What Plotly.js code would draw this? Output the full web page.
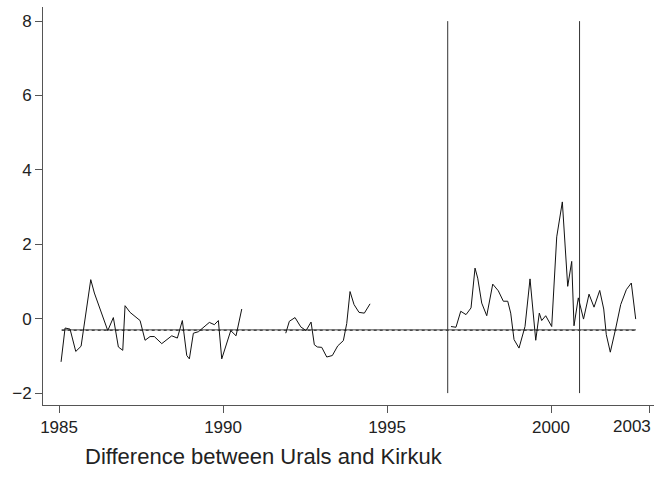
<!DOCTYPE html>
<html>
<head>
<meta charset="utf-8">
<script src="https://cdn.plot.ly/plotly-3.0.1.min.js"></script>
<style>html,body{margin:0;padding:0;background:#fff;}#chart{width:654px;height:482px;}</style>
</head>
<body>
<div id="chart"></div>
<script>
// Segment 1 (1985 - 1990.6)
const seg1Years = [1985.061,1985.183,1985.335,1985.509,1985.671,1985.966,1986.076,1986.485,1986.655,1986.808,1986.942,1987.012,1987.165,1987.470,1987.622,1987.774,1987.905,1988.131,1988.436,1988.607,1988.759,1988.893,1988.973,1989.095,1989.247,1989.421,1989.582,1989.735,1989.857,1989.960,1990.235,1990.396,1990.570];
const seg1Values = [-1.16,-0.25,-0.28,-0.88,-0.74,1.05,0.69,-0.32,0.03,-0.76,-0.85,0.35,0.17,-0.05,-0.58,-0.48,-0.48,-0.67,-0.46,-0.52,-0.05,-0.99,-1.08,-0.39,-0.35,-0.21,-0.10,-0.16,-0.05,-1.08,-0.32,-0.46,0.26];
// Segment 2 (1992 - 1994.5)
const seg2Years = [1991.912,1992.021,1992.195,1992.369,1992.530,1992.683,1992.783,1992.875,1993.009,1993.162,1993.332,1993.497,1993.668,1993.771,1993.872,1993.994,1994.146,1994.308,1994.482];
const seg2Values = [-0.39,-0.07,0.03,-0.22,-0.32,-0.09,-0.70,-0.76,-0.77,-1.03,-0.99,-0.73,-0.59,-0.13,0.73,0.38,0.17,0.15,0.40];
// Segment 3 (1997 - 2002.6)
const seg3Years = [1996.950,1997.102,1997.247,1997.409,1997.561,1997.683,1997.765,1997.887,1998.040,1998.223,1998.393,1998.546,1998.680,1998.771,1998.872,1999.024,1999.207,1999.360,1999.534,1999.643,1999.716,1999.838,2000.021,2000.174,2000.345,2000.509,2000.631,2000.701,2000.832,2000.991,2001.159,2001.311,2001.485,2001.607,2001.686,2001.808,2001.960,2002.125,2002.296,2002.448,2002.582];
const seg3Values = [-0.21,-0.23,0.20,0.11,0.29,1.36,1.09,0.42,0.08,0.93,0.75,0.47,0.47,0.15,-0.56,-0.79,-0.21,1.07,-0.58,0.15,-0.05,0.08,-0.21,2.20,3.14,0.87,1.54,-0.19,0.56,-0.01,0.66,0.31,0.76,0.26,-0.43,-0.90,-0.31,0.38,0.78,0.96,-0.01];
// Reference level and break dates
const meanLevel = -0.30;
const meanSpan = [1985.08, 2002.59];
const breakYears = [1996.85, 2000.87];
const breakSpan = [-2, 8];
const xTicks = [1985, 1990, 1995, 2000, 2003];
const yTicks = [-2, 0, 2, 4, 6, 8];
const titleText = "Difference between Urals and Kirkuk";

const lineStyle = {color: '#111', width: 1};
const traces = [];
traces.push({x: meanSpan, y: [meanLevel, meanLevel], mode: 'lines', line: {color: '#444', width: 1}, hoverinfo: 'skip'});
traces.push({x: meanSpan, y: [meanLevel - 0.01, meanLevel - 0.01], mode: 'lines', line: {color: '#222', width: 1, dash: 'dot'}, hoverinfo: 'skip'});
breakYears.forEach(b => traces.push({x: [b, b], y: breakSpan, mode: 'lines', line: {color: '#333', width: 1}, hoverinfo: 'skip'}));
traces.push({x: seg1Years, y: seg1Values, mode: 'lines', line: lineStyle});
traces.push({x: seg2Years, y: seg2Values, mode: 'lines', line: lineStyle});
traces.push({x: seg3Years, y: seg3Values, mode: 'lines', line: lineStyle});

const fontFam = 'Liberation Sans, Arial, sans-serif';
const tickSize = 17;
const layout = {
  width: 654, height: 482,
  margin: {l: 43, r: 0, t: 7, b: 77},
  paper_bgcolor: '#fff', plot_bgcolor: '#fff',
  showlegend: false,
  font: {family: fontFam, size: tickSize, color: '#222'},
  xaxis: {
    range: [1984.51, 2003.14],
    tickvals: xTicks, ticktext: xTicks.map(v => v === 2003 ? '' : String(v)),
    showgrid: false, zeroline: false,
    showline: true, linecolor: '#555', linewidth: 1,
    ticks: 'outside', ticklen: 7, tickcolor: '#555', tickwidth: 1,
    tickfont: {family: fontFam, size: tickSize, color: '#222'}
  },
  yaxis: {
    range: [-2.32, 8.38],
    tickvals: yTicks, ticktext: yTicks.map(v => v < 0 ? '\u2212' + Math.abs(v) : String(v)),
    showgrid: false, zeroline: false,
    showline: true, linecolor: '#555', linewidth: 1,
    ticks: 'outside', ticklen: 7, tickcolor: '#555', tickwidth: 1,
    tickfont: {family: fontFam, size: tickSize, color: '#222'}
  },
  annotations: [{
    text: titleText, xref: 'paper', yref: 'paper',
    x: (264 - 43) / 611, y: 0, yshift: -37, xanchor: 'center', yanchor: 'top',
    showarrow: false, font: {family: fontFam, size: 22, color: '#222'}
  }, {
    text: String(xTicks[xTicks.length - 1]), xref: 'paper', yref: 'paper',
    x: 1, y: 0, xshift: -1, yshift: -10, xanchor: 'right', yanchor: 'top',
    showarrow: false, font: {family: fontFam, size: tickSize, color: '#222'}
  }]
};
Plotly.newPlot('chart', traces, layout, {displayModeBar: false, staticPlot: true});
</script>
</body>
</html>
